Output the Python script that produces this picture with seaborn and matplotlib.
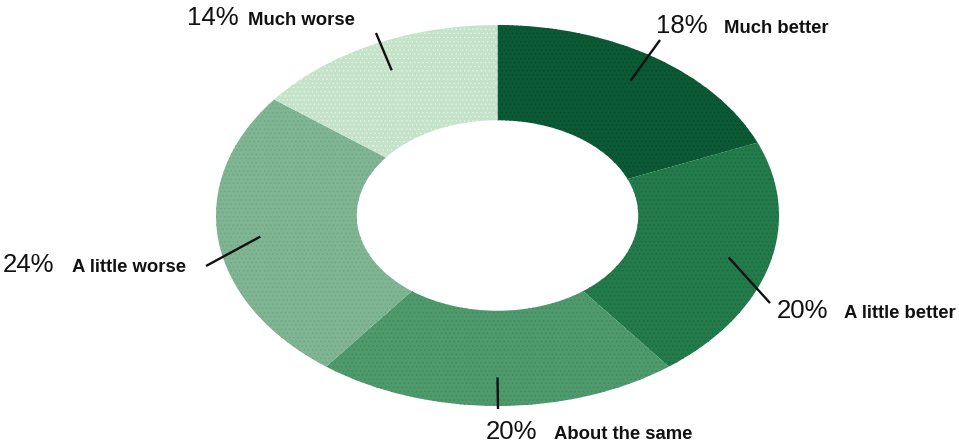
import numpy as np
import matplotlib
matplotlib.use("Agg")
import matplotlib.pyplot as plt
import seaborn as sns

# Survey answers, clockwise from 12 o'clock
categories = ["Much better", "A little better", "About the same", "A little worse", "Much worse"]
shares = [18, 20, 20, 24, 14]
pct_labels = ["18%", "20%", "20%", "24%", "14%"]
colors = ["#0b5a35", "#237a4b", "#4e9a6d", "#7fb592", "#c5e3c9"]
grain = ["#064a2b", "#1a6a3f", "#40885d", "#6fa583", "#e4f3e6"]

sns.set_theme(style="white")
plt.rcParams["font.family"] = ["Liberation Sans", "DejaVu Sans"]
plt.rcParams["hatch.linewidth"] = 0.5

W, H = 959, 445
fig = plt.figure(figsize=(W / 100, H / 100), dpi=100)

# Ring bounds in pixels (the ring is drawn as a flattened ellipse)
left, right, top, bottom = 216, 779, 25, 406
cx, cy = (left + right) / 2, (top + bottom) / 2
rx, ry = (right - left) / 2, (bottom - top) / 2
ax = fig.add_axes([left / W, 1 - bottom / H, (right - left) / W, (bottom - top) / H])

ring = dict(width=0.5, linewidth=0)
ax.pie(shares, colors=colors, startangle=90, counterclock=False, radius=1,
       wedgeprops=ring)
# fine print-screen grain on top of each segment
overlay, _ = ax.pie(shares, colors=["none"] * len(shares), startangle=90,
                    counterclock=False, radius=1, wedgeprops=ring)
for w, g in zip(overlay, grain):
    w.set_hatch("....")
    w.set_edgecolor(g)
    w.set_linewidth(0)

ax.set_aspect("auto")
ax.set_xlim(-1, 1)
ax.set_ylim(-1, 1)
ax.axis("off")


def px_to_data(px, py):
    return (px - cx) / rx, (cy - py) / ry


# Label anchors (pixels): leader-line outer end, percentage x, caption x, baseline y
layout = {
    "Much better": ((660, 40), 656, 724, 33),
    "A little better": ((770, 303), 777, 844, 318),
    "About the same": ((498, 409), 486, 554, 439),
    "A little worse": ((206, 266), 3, 72, 272),
    "Much worse": ((376, 33), 187, 248, 25),
}

total = float(sum(shares))
cum = 0.0
for cat, val, pct in zip(categories, shares, pct_labels):
    mid = np.deg2rad(90 - 360 * (cum + val / 2) / total)
    cum += val
    (ox, oy), px_pct, px_cap, base = layout[cat]
    x0, y0 = 0.85 * np.cos(mid), 0.85 * np.sin(mid)
    x1, y1 = px_to_data(ox, oy)
    ax.plot([x0, x1], [y0, y1], color="#111111", lw=1.7, clip_on=False,
            solid_capstyle="butt")
    fig.text(px_pct / W, 1 - base / H, pct, ha="left", va="baseline",
             fontsize=18.5, color="#111111")
    fig.text(px_cap / W, 1 - base / H, cat, ha="left", va="baseline",
             fontsize=13.3, fontweight="bold", color="#111111")

fig.savefig("out.png", dpi=100, facecolor="white")
